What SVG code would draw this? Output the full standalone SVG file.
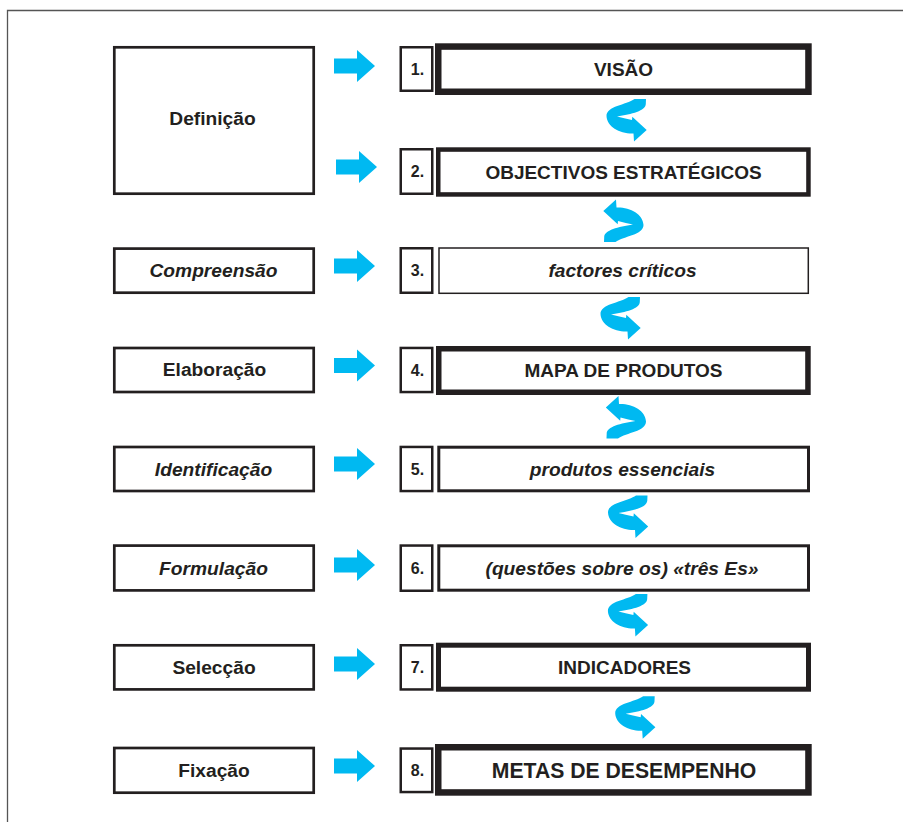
<svg xmlns="http://www.w3.org/2000/svg" xmlns:xlink="http://www.w3.org/1999/xlink" width="903" height="822" viewBox="0 0 903 822">
<style>
.lbox{fill:#fff;stroke:#231f20;stroke-width:2.7}
.nbox{fill:#fff;stroke:#231f20;stroke-width:2.5}
.mbox{fill:#fff;stroke:#231f20}
.t{font-family:"Liberation Sans",Arial,Helvetica,sans-serif;font-weight:bold;fill:#231f20;text-anchor:middle}
.lt{font-size:19.2px}
.mt{font-size:19px}
.it{font-style:italic;font-size:19.2px}
.nt{font-size:16px}
.blue{fill:#00b9f1}
</style>
<defs>
<path id="arr" class="blue" d="M0,-7.5 L23,-7.5 L23,-16 L41,0 L23,16 L23,7.5 L0,7.5 Z"/>
<path id="curl" class="blue" d="M8.5,-21.5 L20,-21.5 L19.8,-16.5 C19.5,-9.5 6,-6.5 -9,-4 Q-2,-2.5 6,-0.5 L6.3,-3.8 L20.7,9.5 L8,21 L7.5,13 C-6,13.5 -19,6.5 -19.5,-4.5 C-19.5,-14.5 0,-15.5 8.5,-21.5 Z"/>
</defs>
<rect width="903" height="822" fill="#fff"/>
<path d="M7.5,822 V10.5 H903" fill="none" stroke="#555" stroke-width="1.3"/>

<g id="definicao"><rect class="lbox" x="114.3" y="47.3" width="199.4" height="146.4"/><text class="t lt" x="212.5" y="125">Definição</text></g>
<g id="compreensao"><rect class="lbox" x="114.3" y="248.6" width="199.4" height="44.1"/><text class="t it" x="213.5" y="277">Compreensão</text></g>
<g id="elaboracao"><rect class="lbox" x="114.3" y="348" width="199.4" height="44"/><text class="t lt" x="214.5" y="376">Elaboração</text></g>
<g id="identificacao"><rect class="lbox" x="114.3" y="447" width="199.4" height="44"/><text class="t it" x="213.5" y="475.5">Identificação</text></g>
<g id="formulacao"><rect class="lbox" x="114.3" y="545.6" width="199.4" height="44.8"/><text class="t it" x="213.5" y="574.5">Formulação</text></g>
<g id="seleccao"><rect class="lbox" x="114.3" y="645.3" width="199.4" height="44.1"/><text class="t lt" x="214" y="673.5">Selecção</text></g>
<g id="fixacao"><rect class="lbox" x="114.3" y="748" width="199.4" height="44.7"/><text class="t lt" x="214" y="776.5">Fixação</text></g>

<g id="n1"><rect class="nbox" x="400.75" y="47.25" width="31.5" height="43.5"/><text class="t nt" x="417.5" y="75">1.</text></g>
<g id="n2"><rect class="nbox" x="400.75" y="149.25" width="31.5" height="44.5"/><text class="t nt" x="417.5" y="177">2.</text></g>
<g id="n3"><rect class="nbox" x="400.75" y="248.25" width="31.5" height="44.5"/><text class="t nt" x="417.5" y="276">3.</text></g>
<g id="n4"><rect class="nbox" x="400.75" y="347.95" width="31.5" height="44.1"/><text class="t nt" x="417.5" y="375.6">4.</text></g>
<g id="n5"><rect class="nbox" x="400.75" y="446.95" width="31.5" height="44.1"/><text class="t nt" x="417.5" y="474.6">5.</text></g>
<g id="n6"><rect class="nbox" x="400.75" y="545.55" width="31.5" height="45.2"/><text class="t nt" x="417.5" y="573.8">6.</text></g>
<g id="n7"><rect class="nbox" x="400.75" y="645.25" width="31.5" height="44.2"/><text class="t nt" x="417.5" y="673">7.</text></g>
<g id="n8"><rect class="nbox" x="400.75" y="748.55" width="31.5" height="43.5"/><text class="t nt" x="417.5" y="776">8.</text></g>

<g id="visao"><rect class="mbox" stroke-width="6.5" x="438.25" y="46.55" width="370.2" height="45.2"/><text class="t mt" x="623.5" y="76">VISÃO</text></g>
<g id="objectivos"><rect class="mbox" stroke-width="4.5" x="438.25" y="149.55" width="370.2" height="44.9"/><text class="t mt" x="623.5" y="178.8">OBJECTIVOS ESTRATÉGICOS</text></g>
<g id="factores"><rect class="mbox" stroke-width="1.5" stroke="#333" x="439" y="248" width="369.3" height="45.3"/><text class="t it" x="622.5" y="277">factores críticos</text></g>
<g id="mapa"><rect class="mbox" stroke-width="5.5" x="438.75" y="348.75" width="369.2" height="43.5"/><text class="t mt" x="623.5" y="377">MAPA DE PRODUTOS</text></g>
<g id="produtos"><rect class="mbox" stroke-width="3" x="438.8" y="447.2" width="369.7" height="43.6"/><text class="t it" x="622.5" y="475.7">produtos essenciais</text></g>
<g id="questoes"><rect class="mbox" stroke-width="3" x="438.8" y="545.8" width="369.7" height="44.4"/><text class="t it" x="622" y="575">(questões sobre os) «três Es»</text></g>
<g id="indicadores"><rect class="mbox" stroke-width="5" x="438.5" y="645.2" width="370" height="44"/><text class="t mt" x="624.5" y="674">INDICADORES</text></g>
<g id="metas"><rect class="mbox" stroke-width="6.5" x="438.25" y="747.25" width="370.2" height="45.2"/><text class="t" style="font-size:21.2px" x="624" y="777.6">METAS DE DESEMPENHO</text></g>

<g id="connectors">
<use xlink:href="#arr" x="334" y="66"/>
<use xlink:href="#arr" x="336" y="167"/>
<use xlink:href="#arr" x="334" y="266"/>
<use xlink:href="#arr" x="334" y="365.5"/>
<use xlink:href="#arr" x="334" y="464"/>
<use xlink:href="#arr" x="334" y="565"/>
<use xlink:href="#arr" x="334" y="664"/>
<use xlink:href="#arr" x="334" y="766"/>
<use xlink:href="#curl" transform="translate(626,120.5)"/>
<use xlink:href="#curl" transform="translate(624,220.5) rotate(180)"/>
<use xlink:href="#curl" transform="translate(620,318.5)"/>
<use xlink:href="#curl" transform="translate(626.5,417) rotate(180)"/>
<use xlink:href="#curl" transform="translate(627.5,517)"/>
<use xlink:href="#curl" transform="translate(627.4,615.5)"/>
<use xlink:href="#curl" transform="translate(634.7,717.7)"/>
</g>
</svg>
